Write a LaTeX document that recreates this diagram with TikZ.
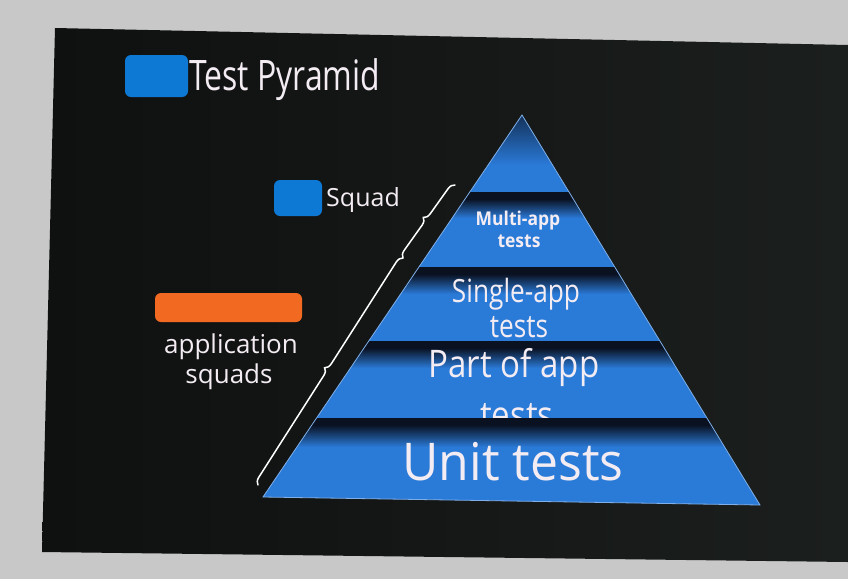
\documentclass[tikz,border=0pt]{standalone}
\usepackage{fontspec}
\setmainfont{Open Sans}
\usetikzlibrary{decorations.pathreplacing,calc}
\definecolor{framegray}{HTML}{C8C8C8}
\definecolor{screenL}{HTML}{0F1010}
\definecolor{screenR}{HTML}{1B1F1D}
\definecolor{layerblue}{HTML}{2A7AD8}
\definecolor{banddark}{HTML}{0A1222}
\definecolor{labeltext}{HTML}{F4ECF3}
\definecolor{markblue}{HTML}{0E78D5}
\definecolor{markorange}{HTML}{F26A22}
\begin{document}
\begin{tikzpicture}[x=1pt,y=-1pt,
  lbl/.style={text=labeltext, inner sep=0pt, anchor=base},
  layertext/.style={text=labeltext, inner sep=0pt, anchor=base, font=\bfseries},
  bracket/.style={draw=white, line width=1.5pt, line cap=round,
    decorate, decoration={brace, amplitude=7pt}},
  blob/.style={rounded corners=6pt}]
\useasboundingbox (0,0) rectangle (848,579);

% photographed screen and its surround
\fill[framegray] (0,0) rectangle (848,579);
\shade[left color=screenL, right color=screenR]
  (55,28) -- (848,45) -- (848,562) -- (42,552) -- cycle;

% pyramid corner points
\coordinate (apex) at (522,115);
\coordinate (bl) at (263,497);
\coordinate (br) at (760,505);
\coordinate (l1) at (469.8,192); \coordinate (r1) at (569.0,192);
\coordinate (l2) at (418.9,267); \coordinate (r2) at (614.7,267);
\coordinate (l3) at (368.8,341); \coordinate (r3) at (659.9,341);
\coordinate (l4) at (316.6,418); \coordinate (r4) at (706.8,418);

% top tier
\begin{scope}
  \clip (apex) -- (r1) -- (l1) -- cycle;
  \fill[layerblue] (250,100) rectangle (780,200);
  \shade[top color=banddark!70!layerblue, bottom color=layerblue] (250,115) rectangle (780,165);
\end{scope}

% second tier
\begin{scope}
  \clip (l1) -- (r1) -- (r2) -- (l2) -- cycle;
  \fill[layerblue] (250,190) rectangle (780,270);
  \fill[banddark] (250,190) rectangle (780,199);
  \shade[top color=banddark, bottom color=layerblue] (250,199) rectangle (780,218);
\end{scope}
\node[layertext, font=\bfseries\fontsize{19}{19}\selectfont] (multi) at (518,225) {\scalebox{0.92}[1]{Multi-app}};
\node[layertext, font=\bfseries\fontsize{19}{19}\selectfont] (multi2) at (519,247) {\scalebox{0.92}[1]{tests}};

% third tier
\begin{scope}
  \clip (l2) -- (r2) -- (r3) -- (l3) -- cycle;
  \fill[layerblue] (250,265) rectangle (780,345);
  \fill[banddark] (250,265) rectangle (780,274);
  \shade[top color=banddark, bottom color=layerblue] (250,274) rectangle (780,294);
\end{scope}
\node[layertext, font=\fontsize{32}{32}\selectfont] (single) at (516,302) {\scalebox{0.82}[1]{Single-app}};
\node[layertext, font=\fontsize{32}{32}\selectfont] (single2) at (519,337) {\scalebox{0.82}[1]{tests}};

% fourth tier
\begin{scope}
  \clip (l3) -- (r3) -- (r4) -- (l4) -- cycle;
  \fill[layerblue] (250,339) rectangle (780,420);
  \fill[banddark] (250,339) rectangle (780,348);
  \shade[top color=banddark, bottom color=layerblue] (250,348) rectangle (780,368);
\end{scope}
\node[layertext, font=\fontsize{38}{38}\selectfont] (part) at (514,377) {\scalebox{0.87}[1]{Part of app}};
\node[layertext, font=\fontsize{38}{38}\selectfont] (part2) at (517,428) {\scalebox{0.87}[1]{tests}};

% base tier, laid over the foot of the tier above
\begin{scope}
  \clip (l4) -- (r4) -- (br) -- (bl) -- cycle;
  \fill[layerblue] (250,416) rectangle (780,510);
  \fill[banddark] (250,416) rectangle (780,425);
  \shade[top color=banddark, bottom color=layerblue] (250,425) rectangle (780,447);
\end{scope}
\node[layertext, font=\mdseries\fontsize{52}{52}\selectfont] (unit) at (513,480) {\scalebox{0.96}[1]{Unit tests}};

% pyramid rim
\draw[layerblue!60!white, line width=0.8pt] (apex) -- (br) -- (bl) -- cycle;

% braces along the left flank
\coordinate (bb0) at (258,485);
\coordinate (bb1) at (403,258);
\coordinate (bb2) at (455,185);
\draw[bracket] (bb0) -- (bb1);
\draw[bracket] (bb1) -- (bb2);

% heading
\fill[markblue, blob] (125,55) rectangle (188,97);
\node[lbl, anchor=base west, font=\fontsize{42}{42}\selectfont] (title) at (189,90) {\scalebox{0.76}[1]{Test Pyramid}};

% labels
\fill[markblue, blob] (274,180) rectangle (322,216);
\node[lbl, anchor=base west, font=\fontsize{25}{25}\selectfont] (squad) at (326,206) {Squad};
\fill[markorange, blob] (155,293) rectangle (302,322);
\node[lbl, font=\fontsize{26}{26}\selectfont] (app1) at (231,353) {application};
\node[lbl, font=\fontsize{26}{26}\selectfont] (app2) at (229,383) {squads};
\end{tikzpicture}
\end{document}
